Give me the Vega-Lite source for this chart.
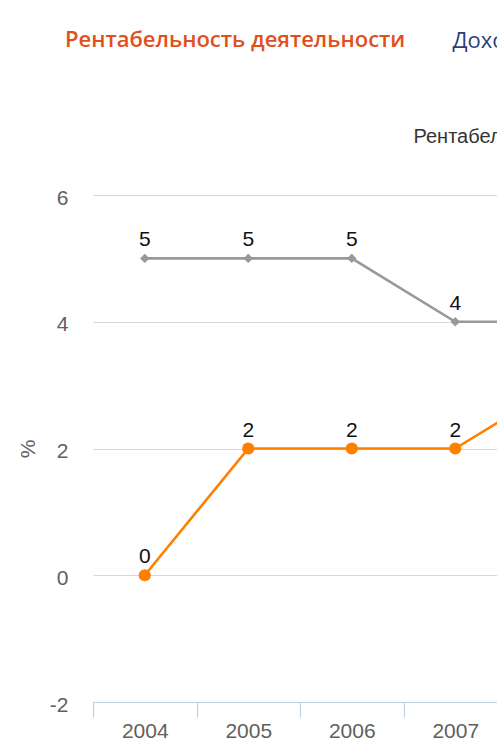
{
  "$schema": "https://vega.github.io/schema/vega-lite/v6.json",
  "autosize": {"type": "none"},
  "padding": {"left": 93, "right": 0, "top": 195, "bottom": 39},
  "width": 404,
  "height": 507,
  "background": "white",
  "title": {
    "text": "Рентабельность деятельности",
    "anchor": "start",
    "frame": "group",
    "dx": -28,
    "offset": -23,
    "color": "#E0501C",
    "font": "Open Sans",
    "fontSize": 22,
    "fontWeight": 600
  },
  "config": {
    "view": {"stroke": null},
    "font": "Liberation Sans"
  },
  "data": {
    "values": [
      {"year": "2004", "series": "Отрасль", "value": 5},
      {"year": "2005", "series": "Отрасль", "value": 5},
      {"year": "2006", "series": "Отрасль", "value": 5},
      {"year": "2007", "series": "Отрасль", "value": 4},
      {"year": "2008", "series": "Отрасль", "value": 4},
      {"year": "2004", "series": "Компания", "value": 0},
      {"year": "2005", "series": "Компания", "value": 2},
      {"year": "2006", "series": "Компания", "value": 2},
      {"year": "2007", "series": "Компания", "value": 2},
      {"year": "2008", "series": "Компания", "value": 3}
    ]
  },
  "encoding": {
    "color": {
      "field": "series",
      "type": "nominal",
      "scale": {"domain": ["Отрасль", "Компания"], "range": ["#999999", "#FF7F00"]},
      "legend": null
    }
  },
  "layer": [
    {
      "mark": {"type": "line", "strokeWidth": 2.6, "clip": true},
      "encoding": {
        "x": {
          "field": "year",
          "type": "ordinal",
          "scale": {"type": "band", "domain": ["2004", "2005", "2006", "2007", "2008"], "range": [0, 517.5], "paddingInner": 0, "paddingOuter": 0},
          "axis": {
            "orient": "bottom",
            "title": null,
            "tickBand": "extent",
            "grid": false,
            "domainColor": "#c0d0e0",
            "domainWidth": 1.2,
            "tickColor": "#c0d0e0",
            "tickWidth": 1.2,
            "tickSize": 15,
            "labelAngle": 0,
            "labelFontSize": 21,
            "labelColor": "#606060",
            "labelPadding": 3
          }
        },
        "y": {
          "field": "value",
          "type": "quantitative",
          "scale": {"domain": [-2, 6], "nice": false, "zero": false},
          "axis": {
            "orient": "left",
            "title": "%",
            "values": [-2, 0, 2, 4, 6],
            "labelExpr": "replace(datum.label, '−', '-')",
            "domain": false,
            "ticks": false,
            "grid": true,
            "gridColor": "#d9d9d9",
            "gridWidth": 1.2,
            "labelFontSize": 21,
            "labelColor": "#606060",
            "labelPadding": 25,
            "labelOffset": 3,
            "titleFontSize": 21,
            "titleFontWeight": "normal",
            "titleColor": "#606060",
            "titlePadding": 11
          }
        }
      }
    },
    {
      "mark": {"type": "point", "filled": true, "opacity": 1, "clip": true},
      "encoding": {
        "x": {
          "field": "year",
          "type": "ordinal",
          "scale": {"type": "band", "domain": ["2004", "2005", "2006", "2007", "2008"], "range": [0, 517.5], "paddingInner": 0, "paddingOuter": 0},
          "axis": null
        },
        "y": {
          "field": "value",
          "type": "quantitative",
          "scale": {"domain": [-2, 6], "nice": false, "zero": false},
          "axis": null
        },
        "shape": {
          "field": "series",
          "type": "nominal",
          "scale": {"domain": ["Отрасль", "Компания"], "range": ["diamond", "circle"]},
          "legend": null
        },
        "size": {
          "field": "series",
          "type": "nominal",
          "scale": {"domain": ["Отрасль", "Компания"], "range": [90, 150]},
          "legend": null
        }
      }
    },
    {
      "mark": {"type": "text", "dy": -12, "fontSize": 21, "color": "#111111", "baseline": "alphabetic", "clip": true},
      "encoding": {
        "x": {
          "field": "year",
          "type": "ordinal",
          "scale": {"type": "band", "domain": ["2004", "2005", "2006", "2007", "2008"], "range": [0, 517.5], "paddingInner": 0, "paddingOuter": 0},
          "axis": {
            "orient": "top",
            "labels": false,
            "ticks": false,
            "domain": false,
            "grid": false,
            "title": "Рентабельность деятельности, %",
            "titleAnchor": "start",
            "titleX": 320,
            "titleY": -53,
            "titleBaseline": "alphabetic",
            "titleAngle": 0,
            "titleFontSize": 20,
            "titleFontWeight": "normal",
            "titleColor": "#333333"
          }
        },
        "y": {
          "field": "value",
          "type": "quantitative",
          "scale": {"domain": [-2, 6], "nice": false, "zero": false},
          "axis": {
            "orient": "right",
            "labels": false,
            "ticks": false,
            "domain": false,
            "grid": false,
            "title": "Доходы и расходы",
            "titleAnchor": "start",
            "titleAlign": "left",
            "titleX": -45,
            "titleY": -148,
            "titleBaseline": "alphabetic",
            "titleAngle": 0,
            "titleFont": "Open Sans",
            "titleFontSize": 22,
            "titleFontWeight": "normal",
            "titleColor": "#2B3F7A"
          }
        },
        "text": {"field": "value", "type": "quantitative"},
        "color": {"value": "#111111"}
      }
    }
  ],
  "resolve": {"axis": {"x": "independent", "y": "independent"}}
}
